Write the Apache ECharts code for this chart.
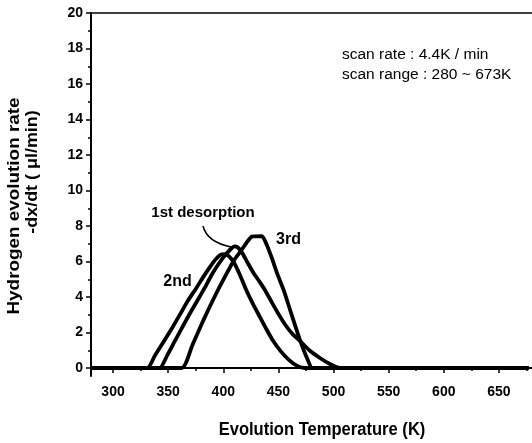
<!DOCTYPE html>
<html><head><meta charset="utf-8">
<script src="https://cdn.jsdelivr.net/npm/echarts@6/dist/echarts.min.js"></script>
<style>html,body{margin:0;padding:0;background:#fff}#c{width:532px;height:443px}</style>
</head><body><div id="c"></div>
<script>
// ---- data ----
const xTickValues = [300, 350, 400, 450, 500, 550, 600, 650];
const xMinorTickValues = [325, 375, 425, 475, 525, 575, 625, 675];
const yTickValues = [0, 2, 4, 6, 8, 10, 12, 14, 16, 18, 20];
const yMinorTickValues = [1, 3, 5, 7, 9, 11, 13, 15, 17, 19];

const temp1st = [280, 342, 349, 355, 362, 369, 376, 383, 389, 394, 399, 403, 407, 410, 413, 417, 421, 427, 433, 438, 444, 450, 456, 463, 470, 478, 488, 496, 506, 677];
const rate1st = [0, 0, 0.7, 1.4, 2.2, 3.0, 3.75, 4.5, 5.2, 5.7, 6.15, 6.45, 6.72, 6.85, 6.8, 6.5, 6.05, 5.4, 4.85, 4.37, 3.7, 3.05, 2.45, 1.9, 1.5, 1.0, 0.55, 0.25, 0, 0];

const temp2nd = [280, 331, 338, 346, 354, 361, 368, 376, 382, 388, 393, 397, 401, 405, 410, 415, 421, 427, 433, 439, 445, 452, 460, 467, 474, 677];
const rate2nd = [0, 0, 0.7, 1.5, 2.3, 3.05, 3.8, 4.55, 5.15, 5.7, 6.12, 6.36, 6.42, 6.3, 5.9, 5.25, 4.37, 3.6, 2.9, 2.2, 1.55, 0.95, 0.43, 0.12, 0, 0];

const temp3rd = [280, 362, 372, 382, 392, 402, 410, 416, 421, 426, 435, 439, 444, 449, 455, 462, 470, 476, 481, 677];
const rate3rd = [0, 0, 1.3, 2.7, 4.0, 5.2, 6.1, 6.6, 7.05, 7.4, 7.43, 7.0, 6.2, 5.3, 4.35, 3.0, 1.5, 0.55, 0, 0];

const seriesNames = ['1st desorption', '2nd', '3rd'];
const xAxisTitle = 'Evolution Temperature (K)';
const yAxisTitleLines = ['Hydrogen evolution rate', '-dx/dt ( \u03bcl/min)'];
const noteLines = ['scan rate : 4.4K / min', 'scan range : 280 ~ 673K'];

// ---- chart ----
const FONT = "'Liberation Sans', Arial, sans-serif";
const zip = (a, b) => a.map((v, i) => [v, b[i]]);
const chart = echarts.init(document.getElementById('c'), null, {renderer: 'canvas'});

const xBase = {type: 'value', min: 280, max: 680, splitLine: {show: false}};
const yBase = {type: 'value', min: -0.45, max: 20, splitLine: {show: false}};

const lineSeries = (name, t, r) => ({
  name, type: 'line', data: zip(t, r), showSymbol: false, smooth: 0.2,
  lineStyle: {color: '#000', width: 3.8}, xAxisIndex: 0, yAxisIndex: 0, z: 3
});

chart.setOption({
  animation: false,
  backgroundColor: '#fff',
  grid: {left: 91, right: 0, top: 13, bottom: 67},
  xAxis: [
    Object.assign({}, xBase, {
      position: 'bottom',
      axisLine: {show: true, lineStyle: {color: '#000', width: 2}},
      axisTick: {show: true, inside: false, length: 5, customValues: xTickValues, lineStyle: {color: '#000', width: 1.5}},
      axisLabel: {show: true, customValues: xTickValues, margin: 9, color: '#000', fontFamily: FONT, fontSize: 14, fontWeight: 'bold'}
    }),
    Object.assign({}, xBase, {
      position: 'bottom',
      axisLine: {show: false},
      axisTick: {show: true, length: 3, customValues: xMinorTickValues, lineStyle: {color: '#000', width: 1.5}},
      axisLabel: {show: false}
    }),
    Object.assign({}, xBase, {
      position: 'top',
      axisLine: {show: true, lineStyle: {color: '#000', width: 1.5}},
      axisTick: {show: false},
      axisLabel: {show: false}
    })
  ],
  yAxis: [
    Object.assign({}, yBase, {
      position: 'left',
      axisLine: {show: true, lineStyle: {color: '#000', width: 2}},
      axisTick: {show: true, length: 5, customValues: yTickValues, lineStyle: {color: '#000', width: 1.5}},
      axisLabel: {show: true, customValues: yTickValues, margin: 8, color: '#000', fontFamily: FONT, fontSize: 14, fontWeight: 'bold'}
    }),
    Object.assign({}, yBase, {
      position: 'left',
      axisLine: {show: false},
      axisTick: {show: true, length: 3, customValues: yMinorTickValues, lineStyle: {color: '#000', width: 1.5}},
      axisLabel: {show: false}
    })
  ],
  series: [
    lineSeries(seriesNames[0], temp1st, rate1st),
    lineSeries(seriesNames[1], temp2nd, rate2nd),
    lineSeries(seriesNames[2], temp3rd, rate3rd)
  ],
  graphic: [
    {type: 'text', x: 322, y: 430, scaleX: 0.92, style: {text: xAxisTitle, textAlign: 'center', textVerticalAlign: 'middle', font: "bold 18px " + FONT, fill: '#000'}},
    {type: 'text', x: 14, y: 206, rotation: Math.PI / 2, scaleX: 1.11, style: {text: yAxisTitleLines[0], textAlign: 'center', textVerticalAlign: 'middle', font: "bold 17px " + FONT, fill: '#000'}},
    {type: 'text', x: 32.5, y: 172, rotation: Math.PI / 2, scaleX: 1.12, style: {text: yAxisTitleLines[1], textAlign: 'center', textVerticalAlign: 'middle', font: "bold 16px " + FONT, fill: '#000'}},
    {type: 'text', x: 203, y: 213, style: {text: seriesNames[0], textAlign: 'center', textVerticalAlign: 'middle', font: "bold 15px " + FONT, fill: '#000'}},
    {type: 'text', x: 177.5, y: 282, style: {text: seriesNames[1], textAlign: 'center', textVerticalAlign: 'middle', font: "bold 16px " + FONT, fill: '#000'}},
    {type: 'text', x: 288.5, y: 240, style: {text: seriesNames[2], textAlign: 'center', textVerticalAlign: 'middle', font: "bold 16px " + FONT, fill: '#000'}},
    {type: 'text', x: 342, y: 55, style: {text: noteLines[0], textAlign: 'left', textVerticalAlign: 'middle', font: "15.5px " + FONT, fill: '#000'}},
    {type: 'text', x: 342, y: 75, style: {text: noteLines[1], textAlign: 'left', textVerticalAlign: 'middle', font: "15.5px " + FONT, fill: '#000'}},
    {type: 'bezierCurve', shape: {x1: 203, y1: 226, cpx1: 207, cpy1: 242, x2: 231, y2: 247}, style: {stroke: '#000', lineWidth: 1.5, fill: null}}
  ]
});
</script>
</body></html>
